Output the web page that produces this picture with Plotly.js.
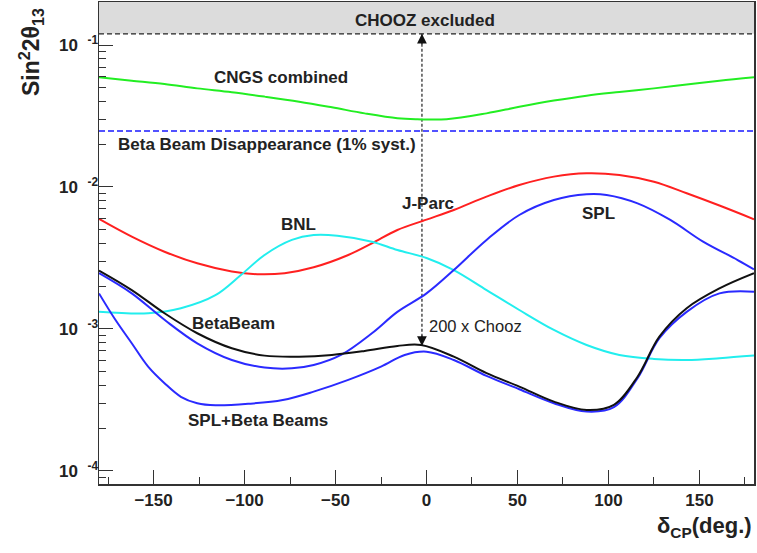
<!DOCTYPE html>
<html>
<head>
<meta charset="utf-8">
<script src="https://cdn.plot.ly/plotly-3.0.1.min.js"></script>
<style>html,body{margin:0;padding:0;background:#fff;}#chart{width:757px;height:553px;}</style>
</head>
<body>
<div id="chart"></div>
<script>
// ---- data (sin^2 2theta13 sensitivity vs deltaCP in degrees) ----
var jparcX = [-180,-162,-144,-126,-107,-93,-78,-62,-43,-30,-16,0,15,33,51,70,88,106,125,143,161,180];
var jparcY = [0.00596,0.00447,0.0035,0.0029,0.00254,0.00243,0.00247,0.00272,0.00332,0.00401,0.00498,0.00589,0.00689,0.00855,0.01033,0.01183,0.0125,0.01216,0.01089,0.00904,0.00741,0.00593];

var bnlX = [-180,-153,-135,-116,-102,-89,-74,-62,-49,-30,-16,0,15,33,51,70,88,106,125,143,161,180];
var bnlY = [0.001324,0.00129,0.0014,0.00173,0.0024,0.00332,0.00424,0.00459,0.00454,0.00412,0.0036,0.00316,0.0026,0.00188,0.00136,0.000984,0.000771,0.000656,0.000615,0.000605,0.000622,0.000649];

var betaX = [-180,-162,-144,-126,-107,-89,-70,-52,-34,-16,-3,15,33,51,70,88,103,116,128,143,161,180];
var betaY = [0.00258,0.00188,0.00129,0.000933,0.000731,0.000649,0.000638,0.000656,0.0007,0.000759,0.000771,0.000638,0.000488,0.000393,0.000308,0.000269,0.000292,0.000461,0.000883,0.0014,0.00193,0.00247];

var splX = [-180,-162,-144,-126,-107,-89,-74,-62,-47,-30,-16,0,15,33,51,70,88,99,116,134,152,171,180];
var splY = [0.00247,0.00178,0.00116,0.000793,0.000605,0.000535,0.000528,0.000557,0.000656,0.000933,0.00132,0.00178,0.0026,0.00424,0.00635,0.00809,0.00889,0.00879,0.00767,0.00586,0.00412,0.00306,0.00263];

var splBetaX = [-180,-171,-162,-153,-144,-135,-126,-116,-98,-79,-62,-43,-25,-12,0,15,33,51,70,88,103,116,128,143,161,180];
var splBetaY = [0.00178,0.00116,0.000793,0.000543,0.000415,0.000333,0.0003,0.00029,0.000297,0.000316,0.000362,0.000438,0.000543,0.000656,0.000692,0.000605,0.000467,0.000376,0.0003,0.000262,0.000281,0.00045,0.000861,0.00132,0.00178,0.00183];

var cngsX = [-180,-162,-144,-126,-107,-89,-70,-52,-34,-16,-5,11,33,51,70,88,106,125,143,161,180];
var cngsY = [0.0593,0.0561,0.0531,0.0495,0.0465,0.0433,0.0399,0.0364,0.033,0.0305,0.03,0.03,0.033,0.0367,0.0406,0.044,0.0467,0.0495,0.0528,0.0561,0.0593];

var choozLimit = 0.12;          // CHOOZ excluded above this
var bbDisappearance = 0.0248;   // Beta Beam disappearance (1% syst.)
var choozOver200 = 0.00076;     // arrow end ("200 x Chooz")
var arrowX = -2.5;
var xEnds = [-180, 180];

var xTickVals = [-150,-100,-50,0,50,100,150];
var yTickVals = [1e-4,1e-3,1e-2,1e-1];
var yTickText = ['10\u00a0\u00a0<sup>-4</sup>','10\u00a0\u00a0<sup>-3</sup>','10\u00a0\u00a0<sup>-2</sup>','10\u00a0\u00a0<sup>-1</sup>'];

// ---- layout helpers ----
var yRange = [-4.092, -0.697];
var bandBottom = (Math.log10(choozLimit) - yRange[0]) / (yRange[1] - yRange[0]);

var FAM = 'Liberation Sans, Arial, sans-serif';
var boldFont = {family: FAM, size: 17, color: '#222', weight: 'bold'};
function lbl(text, x, y, font) {
  return {text: text, x: x, y: y, xref: 'x', yref: 'y', showarrow: false,
          font: font || boldFont, xanchor: 'center', yanchor: 'middle'};
}

var traces = [
  {x: xEnds, y: [choozLimit, choozLimit], yaxis: 'y2', mode: 'lines', line: {color: '#222', width: 1.2, dash: '5px,3px'}, hoverinfo: 'skip'},
  {x: xEnds, y: [bbDisappearance, bbDisappearance], mode: 'lines', line: {color: '#1a1aff', width: 1.3, dash: '6px,3px'}, hoverinfo: 'skip'},
  {x: [arrowX, arrowX], y: [choozLimit, choozOver200], mode: 'lines', line: {color: '#222', width: 1.2, dash: '3px,2px'}, hoverinfo: 'skip'},
  {x: cngsX, y: cngsY, mode: 'lines', line: {color: '#22ee22', width: 2, shape: 'spline'}, name: 'CNGS combined'},
  {x: jparcX, y: jparcY, mode: 'lines', line: {color: '#ff2020', width: 2, shape: 'spline'}, name: 'J-Parc'},
  {x: bnlX, y: bnlY, mode: 'lines', line: {color: '#22eeee', width: 2, shape: 'spline'}, name: 'BNL'},
  {x: splX, y: splY, mode: 'lines', line: {color: '#2a2aff', width: 2, shape: 'spline'}, name: 'SPL'},
  {x: splBetaX, y: splBetaY, mode: 'lines', line: {color: '#2a2aff', width: 2, shape: 'spline'}, name: 'SPL+Beta Beams'},
  {x: betaX, y: betaY, mode: 'lines', line: {color: '#111', width: 2, shape: 'spline'}, name: 'BetaBeam'}
];

var layout = {
  width: 757, height: 553,
  margin: {l: 99, r: 3, t: 2, b: 69},
  paper_bgcolor: '#fff', plot_bgcolor: '#fff',
  showlegend: false,
  font: {family: FAM, color: '#222'},
  xaxis: {
    range: [-180, 180], showgrid: false, zeroline: false,
    showline: true, linecolor: '#333', linewidth: 1.5, mirror: true,
    ticks: 'inside', ticklen: 14, tickcolor: '#333', tickwidth: 1,
    tickmode: 'array', tickvals: xTickVals,
    tickfont: {size: 17, weight: 'bold', color: '#222'},
    minor: {ticks: 'inside', ticklen: 7, tickcolor: '#333', dtick: 25, tick0: -175, showgrid: false}
  },
  // minor ticks (every digit in each decade), no labels
  yaxis: {
    type: 'log', range: yRange, showgrid: false, zeroline: false,
    showline: true, linecolor: '#333', linewidth: 1.5, mirror: true,
    ticks: 'inside', ticklen: 7, tickcolor: '#333', tickwidth: 1,
    dtick: 'D1', showticklabels: false
  },
  // major decade ticks with labels
  yaxis2: {
    type: 'log', range: yRange, overlaying: 'y', side: 'left', anchor: 'x',
    showgrid: false, zeroline: false, showline: false,
    ticks: 'inside', ticklen: 14, tickcolor: '#333', tickwidth: 1,
    tickmode: 'array', tickvals: yTickVals, ticktext: yTickText,
    tickfont: {size: 17, weight: 'bold', color: '#222'}
  },
  shapes: [
    {type: 'rect', xref: 'paper', yref: 'paper', x0: 0, x1: 1, y0: bandBottom, y1: 1,
     fillcolor: '#dcdcdc', line: {width: 0}, layer: 'below'}
  ],
  annotations: [
    lbl('CHOOZ excluded', -1, -0.824),
    lbl('CNGS combined', -80, -1.232),
    lbl('Beta Beam Disappearance (1% syst.)', -87.7, -1.704),
    lbl('BNL', -70.6, -2.261),
    lbl('J-Parc', 0.8, -2.113),
    lbl('SPL', 94.8, -2.19),
    lbl('BetaBeam', -106.3, -2.958),
    lbl('200 x Chooz', 27.2, -2.979, {family: FAM, size: 16.5, color: '#222'}),
    lbl('SPL+Beta Beams', -92.6, -3.648),
    {text: '', x: arrowX, y: Math.log10(choozLimit), xref: 'x', yref: 'y', showarrow: true,
     ax: 0, ay: 12, arrowhead: 2, arrowsize: 1.5, arrowwidth: 1.3, arrowcolor: '#111', standoff: 0},
    {text: '', x: arrowX, y: Math.log10(choozOver200), xref: 'x', yref: 'y', showarrow: true,
     ax: 0, ay: -12, arrowhead: 2, arrowsize: 1.5, arrowwidth: 1.3, arrowcolor: '#111', standoff: 0},
    {text: 'Sin<sup>2</sup>2θ<sub>13</sub>', xref: 'paper', yref: 'paper', x: -0.104, y: 0.896,
     textangle: -90, showarrow: false, xanchor: 'center', yanchor: 'middle',
     font: {size: 23, weight: 'bold', color: '#222'}},
    {text: 'δ<sub>CP</sub>(deg.)', xref: 'paper', yref: 'paper', x: 1.0, y: -0.089,
     showarrow: false, xanchor: 'right', yanchor: 'middle',
     font: {size: 22, weight: 'bold', color: '#222'}}
  ]
};

Plotly.newPlot('chart', traces, layout, {displayModeBar: false, staticPlot: true});
</script>
</body>
</html>
